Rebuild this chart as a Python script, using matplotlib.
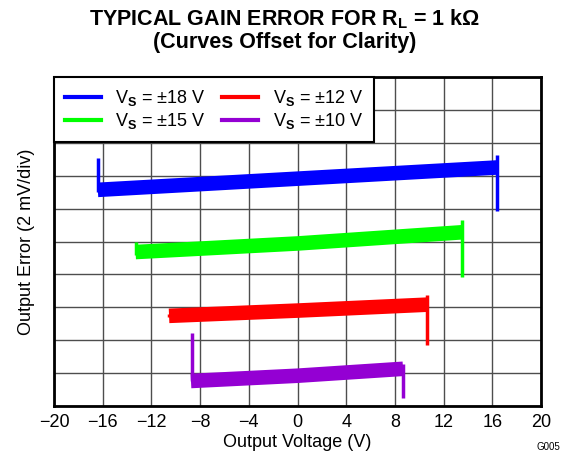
import matplotlib
matplotlib.use('Agg')
import matplotlib.pyplot as plt

plt.rcParams['font.family'] = ['Liberation Sans', 'DejaVu Sans']
plt.rcParams['mathtext.fontset'] = 'custom'
plt.rcParams['mathtext.rm'] = 'Liberation Sans'
plt.rcParams['mathtext.bf'] = 'Liberation Sans:bold'

# output error in divisions (2 mV/div), curves offset for clarity
labels = ['±18 V', '±15 V', '±12 V', '±10 V']
colors = ['#0000FF', '#00FF00', '#FF0000', '#9400D3']

# main band: x (V), y (div)
band_x = [
    [-16.4, 0.0, 16.4],
    [-13.3, 0.0, 13.5],
    [-10.55, 0.0, 10.64],
    [-8.75, 0.0, 8.67],
]
band_y = [
    [6.57, 6.91, 7.25],
    [4.68, 4.94, 5.28],
    [2.74, 2.90, 3.08],
    [0.76, 0.92, 1.13],
]

# vertical steps at the ends of each sweep
left_step_x = [-16.4, -13.3, -10.55, -8.7]
left_step_y = [(6.5, 7.54), (4.6, 4.99), (2.7, 2.8), (0.76, 2.22)]
right_step_x = [16.4, 13.49, 10.64, 8.67]
right_step_y = [(7.62, 5.93), (5.65, 3.92), (3.37, 1.85), (1.28, 0.24)]

xticks = list(range(-20, 21, 4))

fig = plt.figure(figsize=(5.69, 4.59), dpi=100)
ax = fig.add_axes([0.0949, 0.1155, 0.8559, 0.7167])

for i in range(4):
    ax.plot([left_step_x[i]] * 2, left_step_y[i], color=colors[i], lw=2.5,
            solid_capstyle='butt', zorder=3)
    ax.plot([right_step_x[i]] * 2, right_step_y[i], color=colors[i], lw=2.5,
            solid_capstyle='butt', zorder=3)
    ax.plot(band_x[i], band_y[i], color=colors[i], lw=10.5,
            solid_capstyle='butt', solid_joinstyle='round', zorder=3)

handles = []
for i in range(4):
    h, = ax.plot([], [], color=colors[i], lw=3)
    handles.append(h)
leg_labels = [r'V$_\mathbf{S}$ = ' + lab for lab in labels]
leg = ax.legend(handles, leg_labels, loc='upper left', bbox_to_anchor=(0, 1),
                borderaxespad=0, ncol=2, fontsize=13, frameon=True,
                fancybox=False, edgecolor='black', framealpha=1,
                handlelength=2.0, handletextpad=0.8, columnspacing=0.9,
                labelspacing=0.2, borderpad=0.6)
leg.get_frame().set_linewidth(1.5)
leg.set_zorder(5)

ax.set_xlim(-20, 20)
ax.set_ylim(0, 10)
ax.set_xticks(xticks)
ax.set_xticklabels([str(t).replace('-', '\u2212') for t in xticks])
ax.set_yticks(range(0, 11))
ax.set_yticklabels([])
ax.tick_params(length=0, labelsize=13, pad=6)
ax.grid(True, color='0.3', lw=1.0)
ax.set_axisbelow(True)
for s in ax.spines.values():
    s.set_linewidth(2)

ax.set_xlabel('Output Voltage (V)', fontsize=13, labelpad=2)
ax.set_ylabel('Output Error (2 mV/div)', fontsize=13, labelpad=8)

fig.text(0.5, 0.958, r'TYPICAL GAIN ERROR FOR R$_\mathbf{L}$ = 1 kΩ',
         ha='center', va='center', fontsize=15.5, fontweight='bold')
fig.text(0.5, 0.907, '(Curves Offset for Clarity)',
         ha='center', va='center', fontsize=15.5, fontweight='bold')
fig.text(0.985, 0.015, 'G005', ha='right', va='bottom', fontsize=7)

fig.savefig('out.png', dpi=100)
